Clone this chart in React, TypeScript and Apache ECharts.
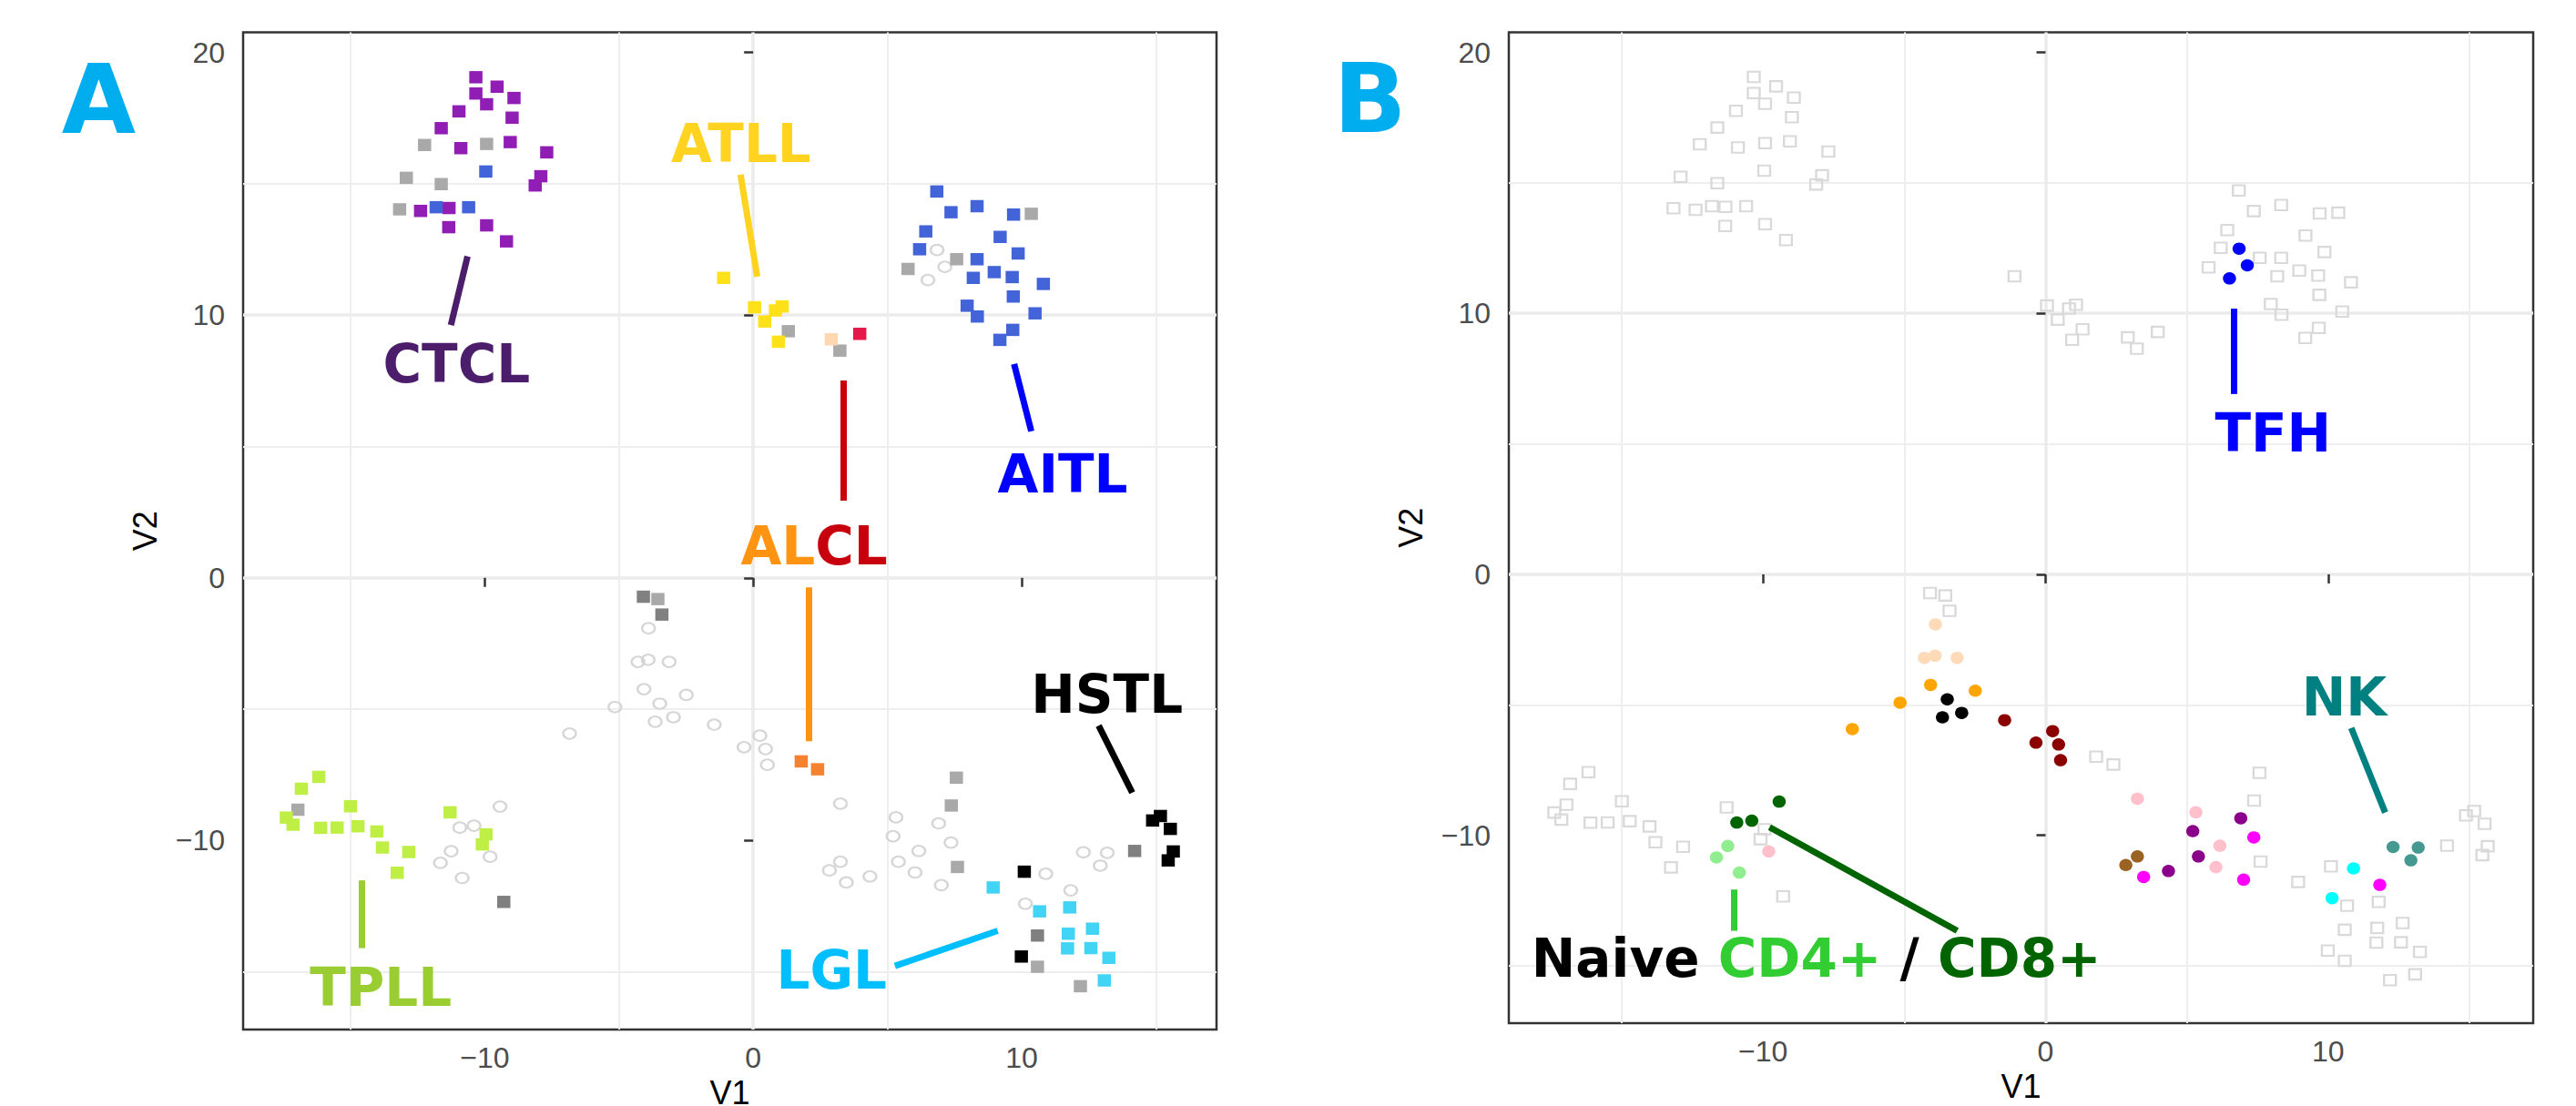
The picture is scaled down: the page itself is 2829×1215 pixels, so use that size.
import React, { useEffect, useRef } from 'react';
import * as echarts from 'echarts';

type P = [number, number];

// ---------- axes ----------
const X_MIN = -19.0;
const X_MAX = 17.26;
const Y_MIN = -17.2;
const Y_MAX = 20.77;
const xTicks = [-10, 0, 10];
const yTicks = [-10, 0, 10, 20];

// ---------- squares: tumour samples (filled in A, hollow grey in B) ----------
const sqPurple: P[] = [[-10.33, 19.06], [-9.54, 18.7], [-10.33, 18.44], [-9.93, 18.03], [-8.91, 18.27], [-10.96, 17.76], [-8.98, 17.52], [-11.62, 17.12], [-10.89, 16.36], [-9.05, 16.59], [-7.69, 16.2], [-7.91, 15.29], [-8.12, 14.94], [-12.39, 13.97], [-11.33, 14.08], [-11.34, 13.35], [-9.93, 13.42], [-9.19, 12.81]];
const sqBlue: P[] = [[-9.96, 15.47], [-11.81, 14.11], [-10.6, 14.11], [6.84, 14.71], [7.37, 13.92], [8.34, 14.15], [9.7, 13.83], [6.43, 13.19], [9.2, 12.98], [6.2, 12.51], [9.87, 12.35], [8.34, 12.13], [8.2, 11.42], [8.98, 11.64], [9.65, 11.45], [10.81, 11.19], [9.69, 10.71], [7.97, 10.36], [8.35, 9.95], [10.5, 10.07], [9.67, 9.44], [9.19, 9.06]];
const sqYellow: P[] = [[-1.1, 11.42], [0.05, 10.3], [0.83, 10.18], [1.08, 10.33], [0.43, 9.76], [0.94, 8.99]];
const sqApricot: P[] = [[2.91, 9.08]];
const sqCrimson: P[] = [[3.97, 9.29]];
const sqOrange: P[] = [[1.79, -6.99], [2.4, -7.29]];
const sqLime: P[] = [[-16.18, -7.58], [-16.83, -8.03], [-17.39, -9.13], [-17.14, -9.4], [-16.11, -9.52], [-15.5, -9.51], [-15.0, -8.7], [-14.72, -9.46], [-14.02, -9.66], [-13.81, -10.27], [-12.83, -10.44], [-13.26, -11.23], [-11.29, -8.93], [-9.95, -9.77], [-10.09, -10.15]];
const sqCyan: P[] = [[8.94, -11.79], [10.67, -12.7], [11.79, -12.55], [11.74, -13.55], [12.64, -13.36], [11.71, -14.11], [12.58, -14.1], [13.25, -14.47], [13.08, -15.33]];
const sqBlack: P[] = [[10.1, -11.19], [9.99, -14.42], [14.88, -9.24], [15.17, -9.07], [15.54, -9.56], [15.65, -10.42], [15.46, -10.76]];
const sqGrey: P[] = [[-12.24, 16.48], [-9.93, 16.52], [-12.92, 15.23], [-11.62, 14.99], [-13.17, 14.03], [1.31, 9.39], [3.23, 8.65], [10.36, 13.86], [7.58, 12.13], [5.77, 11.76], [-3.55, -0.81], [-16.96, -8.83], [7.57, -7.61], [7.38, -8.67], [7.61, -11.01], [10.59, -14.81], [12.19, -15.55]];
const sqDarkGrey: P[] = [[-4.09, -0.72], [-3.4, -1.4], [-9.29, -12.34], [14.21, -10.4], [10.59, -13.62]];

// ---------- circles: normal T / NK cells (hollow in A, filled in B) ----------
const ciPeach: P[] = [[-3.9, -1.92], [-4.29, -3.2], [-3.91, -3.12], [-3.13, -3.2]];
const ciOrange: P[] = [[-4.07, -4.24], [-2.49, -4.46], [-5.15, -4.92], [-6.84, -5.93]];
const ciBlack: P[] = [[-3.48, -4.79], [-3.65, -5.48], [-2.97, -5.31]];
const ciDarkRed: P[] = [[-1.45, -5.59], [0.25, -6.01], [-0.34, -6.45], [0.46, -6.52], [0.53, -7.12]];
const ciDarkGreen: P[] = [[-9.43, -8.71], [-10.93, -9.51], [-10.4, -9.44]];
const ciLightGreen: P[] = [[-11.25, -10.41], [-11.65, -10.85], [-10.84, -11.43]];
const ciPink: P[] = [[-9.8, -10.62], [3.25, -8.6], [5.32, -9.12], [6.17, -10.4], [6.03, -11.22]];
const ciPurple: P[] = [[6.91, -9.35], [5.21, -9.84], [5.41, -10.81], [4.35, -11.37]];
const ciMagenta: P[] = [[7.37, -10.08], [3.47, -11.6], [7.01, -11.7], [11.83, -11.9]];
const ciBrown: P[] = [[3.25, -10.81], [2.84, -11.14]];
const ciCyan: P[] = [[10.9, -11.27], [10.14, -12.41]];
const ciTeal: P[] = [[12.3, -10.45], [13.19, -10.47], [12.93, -10.96]];
const ciBlue: P[] = [[6.85, 12.48], [7.14, 11.84], [6.51, 11.34]];

// ---------- annotations ----------
const labelsA = [
  { at: [-11.05, 8.14], text: 'CTCL', color: '#4B1D6B' },
  { at: [-0.45, 16.52], text: 'ATLL', color: '#FFD320' },
  { at: [2.27, 1.21], text: '{o|AL}{r|CL}', color: '#C8000E' },
  { at: [11.53, 3.94], text: 'AITL', color: '#0000FF' },
  { at: [13.18, -4.45], text: 'HSTL', color: '#000000' },
  { at: [-13.87, -15.61], text: 'TPLL', color: '#9ACD32' },
  { at: [2.92, -14.95], text: 'LGL', color: '#00BFFF' },
];
const segmentsA = [
  { from: [-10.64, 12.24], to: [-11.26, 9.62], color: '#4B1D6B' },
  { from: [-0.47, 15.35], to: [0.15, 11.47], color: '#FFD320' },
  { from: [3.35, 7.51], to: [3.35, 2.94], color: '#C8000E' },
  { from: [2.08, -0.36], to: [2.08, -6.22], color: '#FF9412' },
  { from: [9.72, 8.14], to: [10.36, 5.58], color: '#0000FF' },
  { from: [12.87, -5.63], to: [14.12, -8.18], color: '#000000' },
  { from: [-14.59, -11.52], to: [-14.59, -14.1], color: '#9ACD32' },
  { from: [5.28, -14.78], to: [9.11, -13.44], color: '#00BFFF' },
];
const labelsB = [
  { at: [8.05, 5.42], text: 'TFH', color: '#0000FF' },
  { at: [10.57, -4.71], text: 'NK', color: '#008080' },
  { at: [-18.2, -14.74], text: '{k|Naive }{l|CD4+}{k| / }{d|CD8+}', color: '#000000', left: true },
];
const segmentsB = [
  { from: [6.65, 10.18], to: [6.65, 6.91], color: '#0000FF' },
  { from: [10.82, -5.89], to: [12.02, -9.13], color: '#008080' },
  { from: [-11.02, -12.08], to: [-11.02, -13.66], color: '#32CD32' },
  { from: [-9.77, -9.69], to: [-3.13, -13.66], color: '#006400' },
];

const AX_FONT = 'Liberation Sans';
const LAB_FONT = 'DejaVu Sans';
const LAB_SIZE = 58;

const fmt = (ticks: number[]) => (v: number) => {
  if (!ticks.some((t) => Math.abs(t - v) < 1e-6)) return '';
  return v < 0 ? '\u2212' + Math.abs(v) : String(v);
};

function makeAxes(gridIndex: number, xNameGap: number) {
  const common = {
    type: 'value',
    gridIndex,
    splitNumber: 4,
    nameLocation: 'middle',
    axisLine: { show: false },
    splitLine: { show: true, showMinLine: false, showMaxLine: false, lineStyle: { color: '#EBEBEB', width: 3.5 } },
    minorTick: { show: false, splitNumber: 2 },
    minorSplitLine: { show: true, lineStyle: { color: '#EEEEEE', width: 2 } },
  };
  const x = {
    ...common,
    min: X_MIN,
    max: X_MAX,
    name: 'V1',
    nameGap: xNameGap,
    nameTextStyle: { fontSize: 36, lineHeight: 30, color: '#000000', fontFamily: AX_FONT },
    axisTick: { show: true, length: 10, lineStyle: { color: '#333333', width: 2.5 }, customValues: xTicks },
    axisLabel: { margin: 15, fontSize: 32, color: '#4D4D4D', fontFamily: AX_FONT, customValues: xTicks, formatter: fmt(xTicks) },
  };
  const y = {
    ...common,
    min: Y_MIN,
    max: Y_MAX,
    name: 'V2',
    nameGap: 90,
    nameTextStyle: { fontSize: 36, color: '#000000', fontFamily: AX_FONT },
    axisTick: { show: true, length: 10, lineStyle: { color: '#333333', width: 2.5 }, customValues: yTicks },
    axisLabel: { margin: 20, fontSize: 32, color: '#4D4D4D', fontFamily: AX_FONT, customValues: yTicks, formatter: fmt(yTicks) },
  };
  return { x, y };
}

function filledSquares(data: P[], color: string) {
  return {
    type: 'scatter', xAxisIndex: 0, yAxisIndex: 0, data, symbol: 'rect', symbolSize: [14.5, 13.5],
    itemStyle: { color, opacity: 1 }, silent: true, z: 3,
  };
}
function filledCircles(data: P[], color: string) {
  return {
    type: 'scatter', xAxisIndex: 1, yAxisIndex: 1, data, symbol: 'circle', symbolSize: [14.5, 13.5],
    itemStyle: { color, opacity: 1 }, silent: true, z: 3,
  };
}

const richStyle = (color: string) => ({ color, fontSize: LAB_SIZE, fontWeight: 'bold', fontFamily: LAB_FONT, opacity: 1 });

function labelSeries(axisIndex: number, labels: any[], segments: any[]) {
  return {
    type: 'scatter',
    xAxisIndex: axisIndex,
    yAxisIndex: axisIndex,
    symbolSize: 1,
    itemStyle: { color: 'rgba(0,0,0,0)', opacity: 1 },
    silent: true,
    z: 5,
    data: labels.map((l) => ({
      value: l.at,
      label: {
        show: true,
        position: 'inside',
        formatter: l.text,
        align: l.left ? 'left' : 'center',
        verticalAlign: 'middle',
        color: l.color,
        opacity: 1,
        fontSize: LAB_SIZE,
        fontWeight: 'bold',
        fontFamily: LAB_FONT,
        rich: {
          o: richStyle('#FF9412'),
          r: richStyle('#C8000E'),
          k: richStyle('#000000'),
          l: richStyle('#32CD32'),
          d: richStyle('#006400'),
        },
      },
    })),
    markLine: {
      silent: true,
      symbol: ['none', 'none'],
      animation: false,
      label: { show: false },
      data: segments.map((s) => [
        { coord: s.from, lineStyle: { color: s.color, width: 7, type: 'solid', opacity: 1 } },
        { coord: s.to },
      ]),
    },
  };
}

export default function App() {
  const ref = useRef<HTMLDivElement>(null);
  useEffect(() => {
    document.body.style.margin = '0';
    if (!ref.current) return;
    const chart = echarts.init(ref.current, undefined, { renderer: 'svg' });
    const a = makeAxes(0, 44);
    const b = makeAxes(1, 51);
    const allSquares: P[] = [
      ...sqPurple, ...sqBlue, ...sqYellow, ...sqApricot, ...sqCrimson, ...sqOrange,
      ...sqLime, ...sqCyan, ...sqBlack, ...sqGrey, ...sqDarkGrey,
    ];
    const allCircles: P[] = [
      ...ciPeach, ...ciOrange, ...ciBlack, ...ciDarkRed, ...ciDarkGreen, ...ciLightGreen,
      ...ciPink, ...ciPurple, ...ciMagenta, ...ciBrown, ...ciCyan, ...ciTeal, ...ciBlue,
    ];
    const option: any = {
      animation: false,
      backgroundColor: '#FFFFFF',
      grid: [
        { left: 267, top: 35.5, width: 1069, height: 1095.5, show: true, borderColor: '#333333', borderWidth: 2.5, backgroundColor: 'rgba(0,0,0,0)', containLabel: false, outerBoundsMode: 'none' },
        { left: 1657, top: 35.5, width: 1125, height: 1088.5, show: true, borderColor: '#333333', borderWidth: 2.5, backgroundColor: 'rgba(0,0,0,0)', containLabel: false, outerBoundsMode: 'none' },
      ],
      xAxis: [a.x, b.x],
      yAxis: [a.y, b.y],
      graphic: [
        { type: 'text', silent: true, style: { text: 'A', x: 108.5, y: 109.5, align: 'center', verticalAlign: 'middle', textAlign: 'center', textVerticalAlign: 'middle', fontSize: 105, fontWeight: 'bold', fontFamily: LAB_FONT, fill: '#00AEEF' } },
        { type: 'text', silent: true, style: { text: 'B', x: 1504.5, y: 109, align: 'center', verticalAlign: 'middle', textAlign: 'center', textVerticalAlign: 'middle', fontSize: 105, fontWeight: 'bold', fontFamily: LAB_FONT, fill: '#00AEEF' } },
      ],
      series: [
        // Panel A: hollow circles for normal cells
        {
          type: 'scatter', xAxisIndex: 0, yAxisIndex: 0, data: allCircles, symbol: 'circle', symbolSize: [14, 11.5],
          itemStyle: { color: 'rgba(0,0,0,0)', borderColor: '#D6D6D6', borderWidth: 2.2, opacity: 1 }, silent: true, z: 2,
        },
        filledSquares(sqGrey, '#A9A9A9'),
        filledSquares(sqDarkGrey, '#808080'),
        filledSquares(sqPurple, '#911EB4'),
        filledSquares(sqBlue, '#4363D8'),
        filledSquares(sqYellow, '#FFE119'),
        filledSquares(sqApricot, '#FFD8B1'),
        filledSquares(sqCrimson, '#E6194B'),
        filledSquares(sqOrange, '#F58231'),
        filledSquares(sqLime, '#BFEF45'),
        filledSquares(sqCyan, '#42D4F4'),
        filledSquares(sqBlack, '#000000'),
        labelSeries(0, labelsA, segmentsA),
        // Panel B: hollow squares for tumour samples
        {
          type: 'scatter', xAxisIndex: 1, yAxisIndex: 1, data: allSquares, symbol: 'rect', symbolSize: [13, 11.5],
          itemStyle: { color: 'rgba(0,0,0,0)', borderColor: '#D9D9D9', borderWidth: 2.2, opacity: 1 }, silent: true, z: 2,
        },
        filledCircles(ciPeach, '#FFDAB9'),
        filledCircles(ciOrange, '#FFA500'),
        filledCircles(ciBlack, '#000000'),
        filledCircles(ciDarkRed, '#8B0000'),
        filledCircles(ciDarkGreen, '#006400'),
        filledCircles(ciLightGreen, '#90EE90'),
        filledCircles(ciPink, '#FFC0CB'),
        filledCircles(ciPurple, '#8B008B'),
        filledCircles(ciMagenta, '#FF00FF'),
        filledCircles(ciBrown, '#9A6324'),
        filledCircles(ciCyan, '#00FFFF'),
        filledCircles(ciTeal, '#469990'),
        filledCircles(ciBlue, '#0000FF'),
        labelSeries(1, labelsB, segmentsB),
      ],
    };
    chart.setOption(option);
    return () => chart.dispose();
  }, []);
  return <div ref={ref} style={{ position: 'absolute', left: 0, top: 0, width: 2829, height: 1215 }} />;
}
